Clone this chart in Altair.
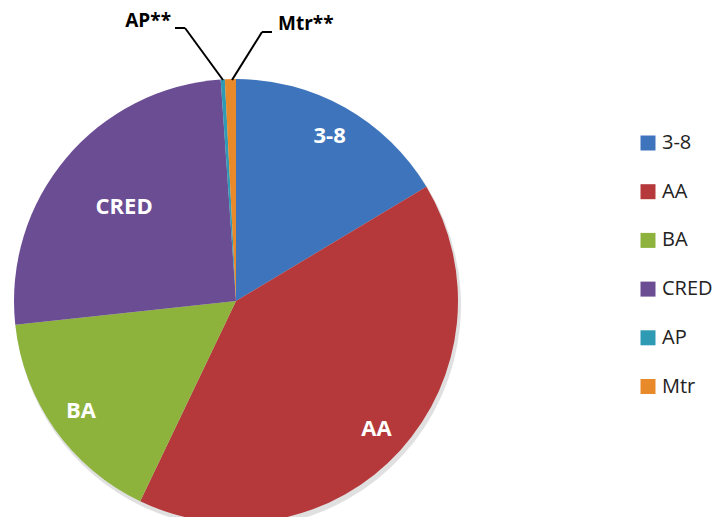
import altair as alt
import pandas as pd

categories = ["3-8", "AA", "BA", "CRED", "AP", "Mtr"]
shares = [16.4, 40.7, 16.2, 25.6, 0.3, 0.8]
slice_labels = ["3-8", "AA", "BA", "CRED", "", ""]
colors = ["#3E74BC", "#B5383A", "#8DB33D", "#6B4D94", "#2E9AB4", "#E88A2A"]

df = pd.DataFrame({
    "cat": categories,
    "share": shares,
    "label": slice_labels,
    "idx": list(range(len(categories))),
})

CX, CY, R = 228, 293, 222
total = sum(shares)
theta_scale = alt.Scale(domain=[0, total])

shadow = alt.Chart(df).mark_arc(outerRadius=R + 1, color="#000000", opacity=0.12).encode(
    theta=alt.Theta("share:Q", stack=True, scale=theta_scale),
    order=alt.Order("idx:Q"),
    x=alt.value(CX + 2),
    y=alt.value(CY + 4),
)

pie = alt.Chart(df).mark_arc(outerRadius=R).encode(
    theta=alt.Theta("share:Q", stack=True, scale=theta_scale),
    order=alt.Order("idx:Q"),
    x=alt.value(CX),
    y=alt.value(CY),
    color=alt.Color(
        "cat:N",
        scale=alt.Scale(domain=categories, range=colors),
        sort=categories,
        legend=alt.Legend(
            title=None,
            orient="none",
            legendX=630,
            legendY=125,
            symbolType="square",
            symbolSize=225,
            symbolStrokeWidth=0,
            labelFontSize=20,
            labelFont="Open Sans",
            labelColor="#222222",
            labelOffset=4,
            rowPadding=28.7,
            padding=0,
        ),
    ),
)

labels = alt.Chart(df).transform_window(
    cum="sum(share)", sort=[alt.SortField("idx", order="ascending")]
).transform_calculate(
    mid="datum.cum - datum.share / 2",
    lr="datum.cat == 'CRED' ? 146 : 190",
).mark_text(
    font="Open Sans", fontSize=22, fontWeight="bold", color="white",
    align="center", baseline="middle",
).encode(
    theta=alt.Theta("mid:Q", stack=None, scale=theta_scale),
    x=alt.value(CX),
    y=alt.value(CY),
    radius=alt.Radius("lr:Q", scale=None),
    text="label:N",
)

def seg(x1, y1, x2, y2):
    return alt.Chart(df.head(1)).mark_rule(color="black", strokeWidth=2).encode(
        x=alt.value(x1), y=alt.value(y1), x2=alt.value(x2), y2=alt.value(y2)
    )

leaders = [
    seg(215, 72, 177, 20),
    seg(177, 20, 167, 20),
    seg(224, 72, 254, 24),
    seg(254, 24, 264, 24),
]

ann_ap = alt.Chart(df.head(1)).mark_text(
    font="Open Sans", fontSize=19, fontWeight="bold", color="black",
    align="right", baseline="middle",
).encode(x=alt.value(163), y=alt.value(13), text=alt.value("AP**"))

ann_mtr = alt.Chart(df.head(1)).mark_text(
    font="Open Sans", fontSize=19, fontWeight="bold", color="black",
    align="left", baseline="middle",
).encode(x=alt.value(270), y=alt.value(16), text=alt.value("Mtr**"))

chart = alt.layer(shadow, pie, labels, *leaders, ann_ap, ann_mtr).properties(
    width=712, height=509, padding=0, autosize="none"
).configure_view(stroke=None)

chart.save("out.html", embed_options={"renderer": "svg", "actions": False})
